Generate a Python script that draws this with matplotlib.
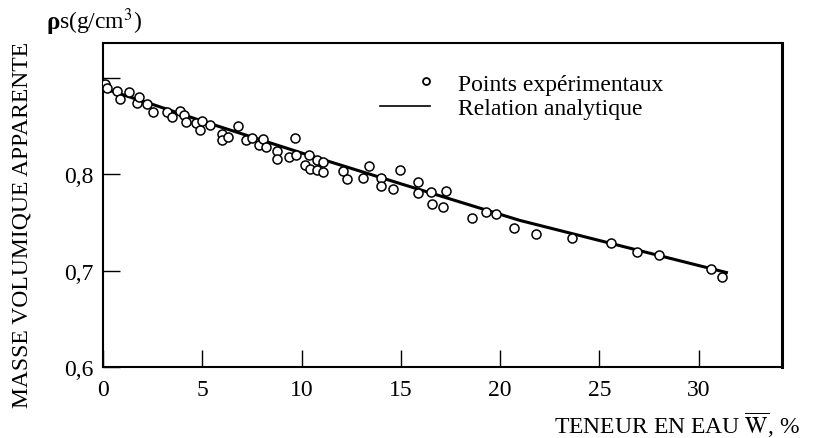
import matplotlib
matplotlib.use("Agg")
import matplotlib.pyplot as plt
from matplotlib.lines import Line2D
from matplotlib.legend_handler import HandlerLine2D

plt.rcParams['font.family'] = ['Liberation Serif', 'DejaVu Serif']
plt.rcParams['mathtext.fontset'] = 'stix'

# Experimental points (water content %, apparent density g/cm3)
w_exp = [0.1, 0.2, 0.7, 0.85, 1.3, 1.7, 1.8, 2.2, 2.5, 3.2, 3.5, 3.9, 4.1, 4.2,
         4.7, 4.9, 5.0, 5.4, 6.0, 6.0, 6.3, 6.8, 7.2, 7.5, 7.85, 8.05, 8.2, 8.75,
         8.75, 9.35, 9.65, 9.7, 10.15, 10.4, 10.45, 10.8, 10.8, 11.1, 11.1, 12.1,
         12.3, 13.1, 13.4, 14.0, 14.0, 14.6, 14.95, 15.85, 15.85, 16.5, 16.55,
         17.1, 17.3, 18.6, 19.3, 19.8, 20.7, 21.8, 23.6, 25.6, 26.9, 28.0, 30.6, 31.2]
rho_exp = [0.894, 0.889, 0.886, 0.878, 0.885, 0.874, 0.880, 0.873, 0.864, 0.864,
           0.859, 0.865, 0.861, 0.854, 0.853, 0.846, 0.855, 0.851, 0.842, 0.835,
           0.839, 0.850, 0.835, 0.838, 0.830, 0.836, 0.828, 0.824, 0.816, 0.818,
           0.837, 0.820, 0.810, 0.820, 0.805, 0.815, 0.804, 0.813, 0.802, 0.803,
           0.795, 0.796, 0.808, 0.796, 0.788, 0.785, 0.804, 0.792, 0.780, 0.782,
           0.769, 0.766, 0.783, 0.755, 0.761, 0.759, 0.744, 0.738, 0.734, 0.729,
           0.719, 0.716, 0.702, 0.693]

# Analytic relation
w_line = [0, 2.4, 5, 10, 15, 21, 26, 31.4]
rho_line = [0.889, 0.873, 0.855, 0.822, 0.790, 0.752, 0.726, 0.698]

x_ticks = [0, 5, 10, 15, 20, 25, 30]
y_ticks = [0.6, 0.7, 0.8, 0.9]
y_tick_labels = ["0,6", "0,7", "0,8", ""]
legend_labels = ['Points expérimentaux', 'Relation analytique']

FS = 17

class RightMarkerHandler(HandlerLine2D):
    def create_artists(self, legend, orig_handle, xdescent, ydescent, width,
                       height, fontsize, trans):
        arts = super().create_artists(legend, orig_handle, xdescent, ydescent,
                                      width, height, fontsize, trans)
        ln = arts[0]
        x = list(ln.get_xdata())
        ln.set_xdata([x[0], x[0] + 0.92 * (x[-1] - x[0]), x[-1]])
        return arts

fig = plt.figure(figsize=(8.19, 4.39), dpi=100)
ax = fig.add_axes([103/819, 1-368/439, (782-103)/819, (368-44)/439])

ax.plot(w_line, rho_line, color='black', lw=2.2, zorder=2)
ax.plot(w_exp, rho_exp, linestyle='none', marker='o', ms=6.5, mfc='white',
        mec='black', mew=1.1, zorder=3)

ax.set_xlim(0, 34.2)
ax.set_ylim(0.6, 0.936)
ax.set_xticks(x_ticks)
ax.set_xticklabels([str(t) for t in x_ticks])
ax.set_yticks(y_ticks)
ax.set_yticklabels(y_tick_labels)
ax.tick_params(direction='in', length=12, width=1.0, labelsize=FS, color='black')
ax.tick_params(axis='x', pad=9)
ax.tick_params(axis='y', pad=7)
for s in ['left', 'bottom', 'top']:
    ax.spines[s].set_linewidth(1.5)
ax.spines['right'].set_linewidth(2.2)

h_pts = Line2D([], [], linestyle='none', marker='o', ms=5, mfc='white', mec='black', mew=1.3)
h_line = Line2D([], [], color='black', lw=1.2)
leg = ax.legend([h_pts, h_line], legend_labels,
                handler_map={h_pts: RightMarkerHandler(numpoints=1)},
                loc='upper left', bbox_to_anchor=(380/819, 1-74/439),
                bbox_transform=fig.transFigure, frameon=False, fontsize=FS,
                handlelength=2.1, handletextpad=1.2, labelspacing=0.12,
                borderpad=0, borderaxespad=0)

fig.text(46/819, 1-22/439, 'ρ', fontsize=FS + 1, fontweight='bold', va='center', ha='left')
fig.text(59/819, 1-22/439, 's(g/cm$^3$)', fontsize=FS, va='center', ha='left')
fig.text(22/819, 1-225/439, 'MASSE VOLUMIQUE APPARENTE', fontsize=FS,
         rotation=90, va='center', ha='center')
fig.text(800/819, 1-425/439, r'TENEUR EN EAU $\overline{\mathrm{W}}$, %', fontsize=FS,
         va='center', ha='right')

fig.savefig('out.png', dpi=100)
